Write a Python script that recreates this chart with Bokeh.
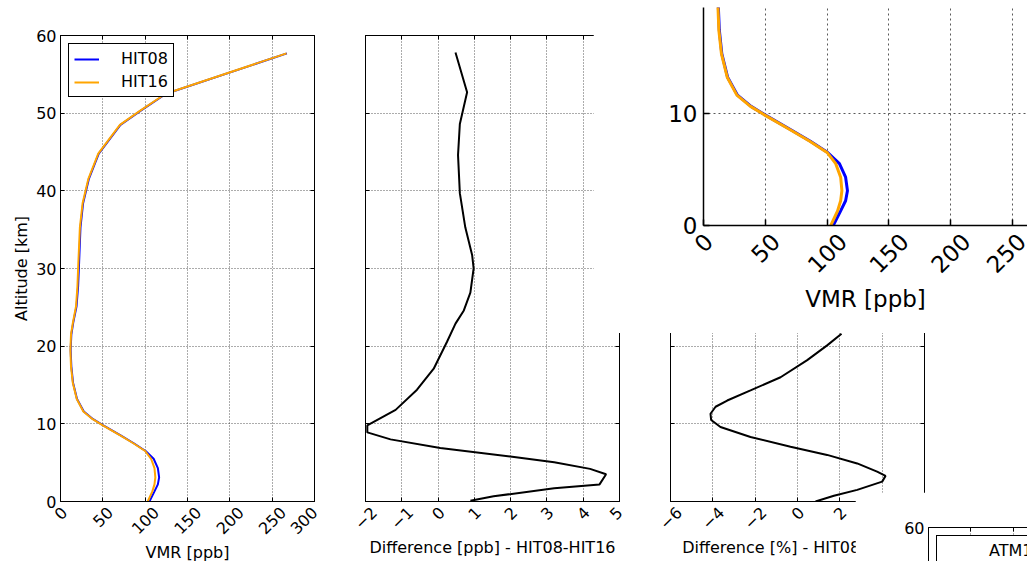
import math
from bokeh.plotting import figure
from bokeh.models import Range1d, LinearAxis, FixedTicker, Legend, LegendItem
from bokeh.embed import file_html
from bokeh.resources import INLINE

FONT = "DejaVu Sans"

# ---------------- data ----------------
alt_km = [0, 1.3, 2.2, 3.1, 4.3, 5.5, 6.5, 7.5, 8.5, 9.8, 10.6, 11.6, 13.2, 15.3, 17.4,
          19.5, 21.5, 23.0, 25.1, 27.7, 30.8, 35.3, 38.4, 41.5, 44.8, 48.5, 50.3, 52.5, 57.7]
vmr_hit08 = [105, 111, 115, 116.5, 115, 110, 100.5, 86.5, 71, 50.5, 38.5, 27.5, 19.5, 14.8, 12.8,
             12.0, 12.8, 15.0, 18.9, 20.8, 22.0, 23.6, 26.7, 33.4, 45.2, 70.8, 94.4, 124.7, 267.4]
vmr_hit16 = [103, 108.5, 111, 112, 111, 107, 100, 86, 70.5, 50, 38, 27, 19.2, 14.5, 12.4,
             11.7, 12.4, 14.6, 18.3, 20.0, 21.1, 22.9, 26.1, 32.8, 44.6, 70.2, 93.8, 124.2, 267.0]

alt_diff = [0.1, 0.67, 1.7, 2.2, 3.5, 4.2, 5.05, 5.8, 6.9, 8.0, 8.9, 9.8, 11.8, 14.4, 17.1,
            20.6, 22.9, 24.6, 26.9, 30.0, 31.7, 35.3, 39.7, 44.6, 48.6, 52.7, 57.8]
diff_ppb = [0.89, 1.53, 3.2, 4.45, 4.63, 4.19, 3.2, 1.99, 0.06, -1.31, -1.95, -1.95, -1.17, -0.58, -0.12,
            0.25, 0.48, 0.71, 0.89, 0.98, 0.94, 0.75, 0.60, 0.55, 0.60, 0.80, 0.48]

alt_pct = [0, 0.73, 1.5, 2.56, 3.3, 3.85, 4.9, 6.0, 7.05, 8.3, 9.6, 10.5, 11.3, 12.2, 13.0,
           14.3, 16.0, 18.2, 20.1, 21.6]
diff_pct = [0.85, 1.72, 2.82, 4.0, 4.16, 3.76, 2.82, 1.40, -0.33, -2.22, -3.64, -4.08, -4.11, -3.87, -3.32,
            -2.22, -0.80, 0.46, 1.40, 2.08]

vmr_ticks = [0, 50, 100, 150, 200, 250, 300]
vmr_tick_labels = ["0", "50", "100", "150", "200", "250", "300"]
alt_ticks = [0, 10, 20, 30, 40, 50, 60]
ppb_ticks = [-2, -1, 0, 1, 2, 3, 4, 5]
ppb_tick_labels = ["\u22122", "\u22121", "0", "1", "2", "3", "4", "5"]
pct_ticks = [-6, -4, -2, 0, 2, 4, 6]
pct_tick_labels = ["\u22126", "\u22124", "\u22122", "0", "2", "4", "6"]


def base_fig(fw, fh, xr, yr, borders, x_loc="below", dash="1 2"):
    l, r, t, b = borders
    p = figure(frame_width=fw, frame_height=fh, x_range=Range1d(*xr), y_range=Range1d(*yr),
               output_backend="svg", toolbar_location=None, x_axis_location=x_loc,
               min_border_left=l, min_border_right=r, min_border_top=t, min_border_bottom=b)
    p.background_fill_color = "white"
    p.border_fill_color = "white"
    p.outline_line_color = "black"
    p.outline_line_width = 1
    p.outline_line_alpha = 1
    for g in p.grid:
        g.grid_line_color = "black"
        g.grid_line_dash = dash
        g.grid_line_alpha = 0.65
        g.grid_line_width = 1
    return p


def style_axis(ax, ticks, fs="16px", tick_len=4, labels=True, lw=1, label=None, lab_standoff=2):
    ax.ticker = FixedTicker(ticks=ticks)
    ax.major_tick_in = tick_len
    ax.major_tick_out = 0
    ax.minor_tick_line_color = None
    ax.axis_line_color = "black"
    ax.axis_line_width = lw
    ax.major_tick_line_color = "black"
    ax.major_tick_line_width = lw
    ax.major_label_text_font = FONT
    ax.major_label_text_font_size = fs
    ax.major_label_text_color = "black" if labels else None
    ax.major_label_standoff = 4
    ax.axis_label_text_font = FONT
    ax.axis_label_text_font_size = fs
    ax.axis_label_text_font_style = "normal"
    ax.axis_label_text_color = "black"
    ax.axis_label_standoff = lab_standoff
    if label:
        ax.axis_label = label


def add_axis(p, side, ticks, tick_len=4, lw=1):
    ax = LinearAxis()
    style_axis(ax, ticks, tick_len=tick_len, labels=False, lw=lw)
    p.add_layout(ax, side)


def add_rotated_label_axis(p, ticks, labels, fs_px, px_per_unit, standoff, label, lab_standoff,
                           max_pos):
    """Second 'below' axis that only carries the 45-degree tick labels.
    Bokeh right-aligns rotated labels at the tick; matplotlib centres them, so each
    label is anchored half a rotated text-width to the right of its tick
    (but never past the end of the range, where the axis would drop it)."""
    pos, over = [], {}
    for t, s in zip(ticks, labels):
        w = sum(0.838 if ch == "\u2212" else 0.636 for ch in s) * fs_px
        x = round(min(t + 0.3536 * w / px_per_unit, max_pos), 3)
        pos.append(x)
        over[x] = s
    ax = LinearAxis(ticker=FixedTicker(ticks=pos), major_label_overrides=over)
    ax.axis_line_color = None
    ax.major_tick_line_color = None
    ax.minor_tick_line_color = None
    ax.major_tick_in = 0
    ax.major_tick_out = 0
    ax.major_label_orientation = math.pi / 4
    ax.major_label_standoff = standoff
    ax.major_label_text_font = FONT
    ax.major_label_text_font_size = "%dpx" % fs_px
    ax.major_label_text_color = "black"
    ax.axis_label = label
    ax.axis_label_text_font = FONT
    ax.axis_label_text_font_size = "%dpx" % fs_px
    ax.axis_label_text_font_style = "normal"
    ax.axis_label_text_color = "black"
    ax.axis_label_standoff = lab_standoff
    p.add_layout(ax, "below")


def style_legend(leg):
    leg.location = "top_left"
    leg.margin = 8
    leg.padding = 5
    leg.spacing = 4
    leg.glyph_width = 25
    leg.glyph_height = 16
    leg.label_height = 16
    leg.label_standoff = 22
    leg.label_text_font = FONT
    leg.label_text_font_size = "16px"
    leg.label_text_color = "black"
    leg.border_line_color = "black"
    leg.border_line_width = 1
    leg.border_line_alpha = 1
    leg.background_fill_color = "white"
    leg.background_fill_alpha = 1


# ---------------- panel A: VMR profiles ----------------
pa = base_fig(254, 466, (0, 300), (0, 60), (60, 21, 35, 60))
r08 = pa.line(vmr_hit08, alt_km, line_color="#0000ff", line_width=2)
r16 = pa.line(vmr_hit16, alt_km, line_color="#ffa500", line_width=2)
style_axis(pa.below[0], vmr_ticks, labels=False)
style_axis(pa.left[0], alt_ticks, label="Altitude [km]", lab_standoff=2)
add_axis(pa, "above", vmr_ticks)
add_axis(pa, "right", alt_ticks)
add_rotated_label_axis(pa, vmr_ticks, vmr_tick_labels, 16, 254 / 300, 8, "VMR [ppb]", 0,
                       max_pos=300)
leg_a = Legend(items=[LegendItem(label="HIT08", renderers=[r08]),
                      LegendItem(label="HIT16", renderers=[r16])])
style_legend(leg_a)
pa.add_layout(leg_a)

# ---------------- panel B: difference in ppb ----------------
pb = base_fig(254, 466, (-2, 5), (0, 60), (30, 16, 35, 60))
pb.line(diff_ppb, alt_diff, line_color="black", line_width=2)
style_axis(pb.below[0], ppb_ticks, labels=False)
style_axis(pb.left[0], alt_ticks, labels=False)
add_axis(pb, "above", ppb_ticks)
add_axis(pb, "right", alt_ticks)
add_rotated_label_axis(pb, ppb_ticks, ppb_tick_labels, 16, 254 / 7, 8,
                       "Difference [ppb] - HIT08-HIT16", 0, max_pos=5)

# ---------------- panel D: difference in % ----------------
pd_ = base_fig(254, 466, (-6, 6), (0, 60), (30, 16, 35, 60))
pd_.line(diff_pct, alt_pct, line_color="black", line_width=2)
style_axis(pd_.below[0], pct_ticks, labels=False)
style_axis(pd_.left[0], alt_ticks, labels=False)
add_axis(pd_, "above", pct_ticks)
add_axis(pd_, "right", alt_ticks)
add_rotated_label_axis(pd_, pct_ticks, pct_tick_labels, 16, 254 / 12, 8,
                       "Difference [%] - HIT08-HIT16", 0, max_pos=6)

# ---------------- panel C: zoomed copy of the VMR profiles ----------------
pc = base_fig(324, 218, (0, 262.2), (0, 19.4), (110, 0, 0, 108), dash="2 3")
pc.outline_line_color = None
pc.line(vmr_hit08, alt_km, line_color="#0000ff", line_width=3)
pc.line(vmr_hit16, alt_km, line_color="#ffa500", line_width=3)
style_axis(pc.below[0], vmr_ticks, fs="23px", tick_len=6, lw=1.5, labels=False)
style_axis(pc.left[0], alt_ticks, fs="23px", tick_len=6, lw=1.5)
pc.left[0].major_label_standoff = 6
add_rotated_label_axis(pc, vmr_ticks[:6], vmr_tick_labels[:6], 23, 324 / 262.2, 12,
                       "VMR [ppb]", 2, max_pos=262.2)

# ---------------- panel E: partially visible next figure ----------------
pe = base_fig(99, 34, (0, 116.9), (55.62, 60), (73, 0, 35, 0), x_loc="above")
pe.outline_line_color = None
re_ = pe.line(x=[], y=[], line_color="#0000ff", line_width=2)
style_axis(pe.above[0], vmr_ticks, labels=False)
style_axis(pe.left[0], alt_ticks)
leg_e = Legend(items=[LegendItem(label="ATM16", renderers=[re_])])
style_legend(leg_e)
pe.add_layout(leg_e)

# ---------------- page: panels placed as in the reference ----------------
POS = [(0, 0), (335, 0), (640, 0), (593, 7), (855, 492)]
divs = "".join(
    '<div style="position:absolute;left:%dpx;top:%dpx;">{{ embed(roots[%d]) }}</div>' % (l, t, i)
    for i, (l, t) in enumerate(POS))
TEMPLATE = ("{% block contents %}{% from macros import embed with context %}"
            "<style>html, body { overflow: hidden; }</style>" + divs + "{% endblock %}")

p = [pa, pb, pd_, pc, pe]
open("out.html", "w").write(file_html(p, INLINE, template=TEMPLATE))
